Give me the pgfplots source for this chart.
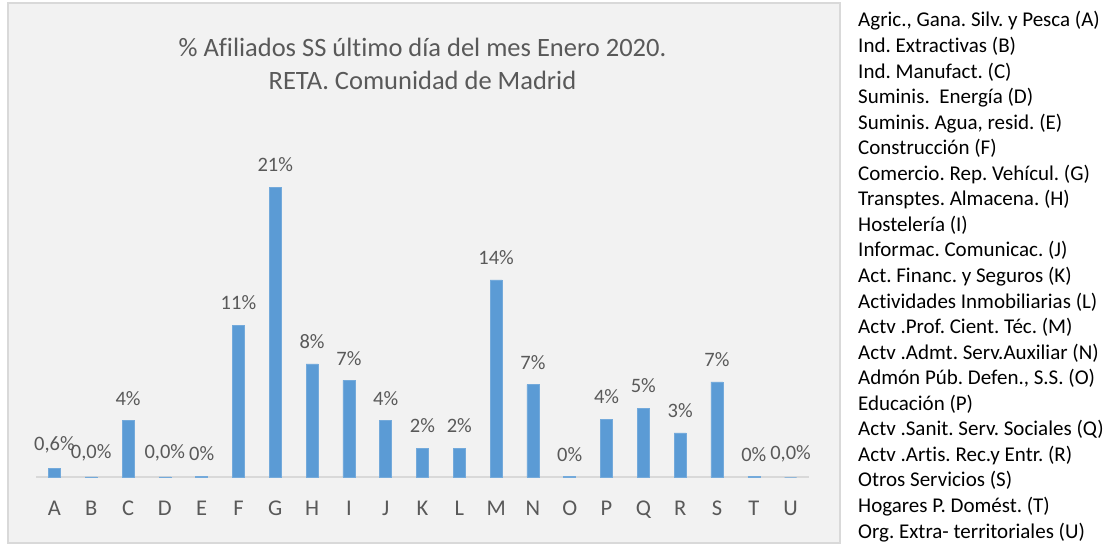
\documentclass[border=0pt]{standalone}
\usepackage{fontspec}
\setmainfont{Carlito}[Ligatures={NoCommon}]
\usepackage{pgfplots}
\pgfplotsset{compat=1.18}
\definecolor{barblue}{HTML}{5B9BD5}
\definecolor{txtgray}{HTML}{595959}
\definecolor{bordergray}{HTML}{D9D9D9}
\definecolor{bggray}{HTML}{F2F2F2}
\frenchspacing
\begin{document}
\begin{tikzpicture}[x=1pt,y=1pt]
\path[use as bounding box] (0,0) rectangle (1115,550);
\fill[white] (0,0) rectangle (1115,550);
\draw[bordergray, fill=bggray, line width=1.2pt] (8,7) rectangle (840,547);
\begin{axis}[
  at={(36pt,73pt)}, anchor=south west,
  scale only axis, width=773pt, height=331pt,
  xmin=-0.5, xmax=20.5, ymin=0, ymax=24,
  axis x line=bottom, axis y line=none,
  x axis line style={-, draw=bordergray, line width=1.5pt},
  xtick={0,...,20},
  xticklabels={A,B,C,D,E,F,G,H,I,J,K,L,M,N,O,P,Q,R,S,T,U},
  major tick length=0pt,
  xticklabel style={font=\fontsize{22.5}{26}\selectfont, text=txtgray, anchor=north, inner sep=0pt, yshift=-24pt},
  clip=false,
]
\addplot[ybar, bar width=12pt, fill=barblue, draw=barblue!85!white, line width=0.5pt,
  point meta=explicit symbolic,
  nodes near coords,
  every node near coord/.append style={font=\fontsize{20.5}{24}\selectfont, text=txtgray, anchor=south, inner sep=0pt, yshift=15pt}]
coordinates {
(0,0.6) [0,6\%]
(1,0.01) [0,0\%]
(2,4.1) [4\%]
(3,0.01) [0,0\%]
(4,0.06) [0\%]
(5,11.0) [11\%]
(6,21.0) [21\%]
(7,8.2) [8\%]
(8,7.0) [7\%]
(9,4.1) [4\%]
(10,2.1) [2\%]
(11,2.1) [2\%]
(12,14.3) [14\%]
(13,6.7) [7\%]
(14,0.03) [0\%]
(15,4.2) [4\%]
(16,5.0) [5\%]
(17,3.2) [3\%]
(18,6.9) [7\%]
(19,0.02) [0\%]
(20,0.0) [0,0\%]
};
\end{axis}
\node[font=\fontsize{26.5}{30}\selectfont, text=txtgray, anchor=base, inner sep=0pt] at (422.5,493) {\% Afiliados SS último día del mes Enero 2020.};
\node[font=\fontsize{26.5}{30}\selectfont, text=txtgray, anchor=base, inner sep=0pt] at (422.5,460) {RETA. Comunidad de Madrid};
\foreach \t [count=\i from 0] in {
{Agric., Gana. Silv. y Pesca (A)},
{Ind. Extractivas (B)},
{Ind. Manufact. (C)},
{Suminis.\ \ Energía (D)},
{Suminis. Agua, resid. (E)},
{Construcción (F)},
{Comercio. Rep. Vehícul. (G)},
{Transptes. Almacena. (H)},
{Hostelería (I)},
{Informac. Comunicac. (J)},
{Act. Financ. y Seguros (K)},
{Actividades Inmobiliarias (L)},
{Actv .Prof. Cient. Téc. (M)},
{Actv .Admt. Serv.Auxiliar (N)},
{Admón Púb. Defen., S.S. (O)},
{Educación (P)},
{Actv .Sanit. Serv. Sociales (Q)},
{Actv .Artis. Rec.y Entr. (R)},
{Otros Servicios (S)},
{Hogares P. Domést. (T)},
{Org. Extra- territoriales (U)}}
{\node[anchor=base west, inner sep=0pt, font=\fontsize{21}{25}\selectfont] at (858,{523-25.55*\i}) {\t};}
\end{tikzpicture}
\end{document}
